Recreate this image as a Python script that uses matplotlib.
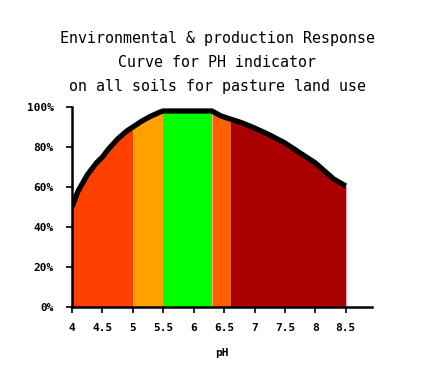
import numpy as np
import matplotlib.pyplot as plt

plt.switch_backend('agg')

# response curve (pH, % response)
ph = [4.0, 4.1, 4.25, 4.4, 4.5, 4.6, 4.75, 4.9, 5.0, 5.15, 5.3, 5.45, 5.5,
      6.3, 6.45, 6.6, 6.8, 7.0, 7.25, 7.5, 7.75, 8.0, 8.15, 8.3, 8.5]
resp = [50, 58, 66, 72, 75, 79, 84, 88, 90, 93, 95.5, 97.5, 98,
        98, 95.5, 94, 92, 89.5, 86, 82, 77, 72, 68, 64, 60.5]

# coloured bands under the curve
band_lo = [4.0, 5.0, 5.5, 6.3, 6.6]
band_hi = [5.0, 5.5, 6.3, 6.6, 8.5]
band_col = ['#ff4000', '#ffa000', '#00ff00', '#ff6000', '#aa0000']

xticks = [4, 4.5, 5, 5.5, 6, 6.5, 7, 7.5, 8, 8.5]
xticklabels = ['4', '4.5', '5', '5.5', '6', '6.5', '7', '7.5', '8', '8.5']
yticks = [0, 20, 40, 60, 80, 100]
yticklabels = ['0%', '20%', '40%', '60%', '80%', '100%']

title_lines = ['Environmental & production Response',
               'Curve for PH indicator',
               'on all soils for pasture land use']

mono = 'DejaVu Sans Mono'

fig = plt.figure(figsize=(4.22, 3.77), dpi=100)
ax = fig.add_axes([72/422, 1-307/377, 300/422, 200/377])

for lo, hi, c in zip(band_lo, band_hi, band_col):
    xs = [lo] + [p for p in ph if lo < p < hi] + [hi]
    ys = np.interp(xs, ph, resp)
    ax.fill_between(xs, 0, ys, color=c, lw=0)

ax.plot(ph, resp, color='black', lw=3.8, solid_capstyle='butt', solid_joinstyle='round')

ax.set_xlim(4, 8.93)
ax.set_ylim(0, 100)
ax.set_xticks(xticks)
ax.set_xticklabels(xticklabels, family=mono, weight='bold', fontsize=8)
ax.set_yticks(yticks)
ax.set_yticklabels(yticklabels, family=mono, weight='bold', fontsize=8)
ax.tick_params(axis='x', length=4, width=1.2, pad=7.5)
ax.tick_params(axis='y', length=4, width=1.2, pad=9)
for s in ['top', 'right']:
    ax.spines[s].set_visible(False)
for s in ['left', 'bottom']:
    ax.spines[s].set_linewidth(1.8)
ax.set_xlabel('pH', family=mono, weight='bold', fontsize=8, labelpad=10.5)

for i, t in enumerate(title_lines):
    fig.text(217/422, 1 - (38 + 24.5*i)/377, t, family=mono, fontsize=10.8,
             ha='center', va='center')

fig.savefig('out.png', dpi=100)
